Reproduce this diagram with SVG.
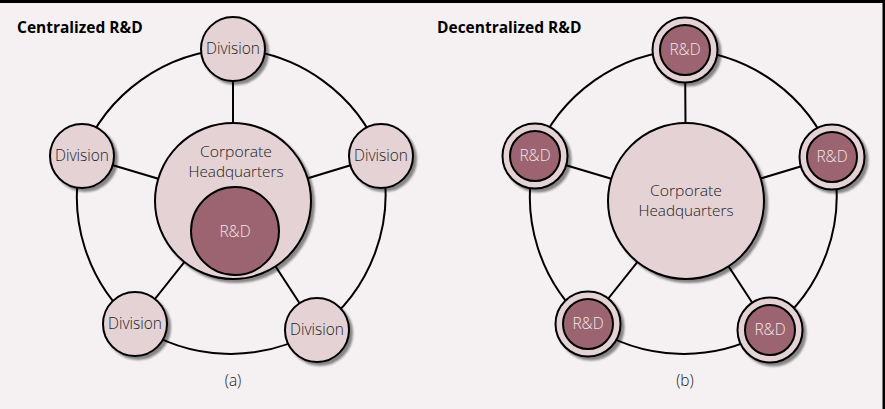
<svg xmlns="http://www.w3.org/2000/svg" width="885" height="409" viewBox="0 0 885 409">
<defs>
<filter id="sh" x="-30%" y="-30%" width="160%" height="160%">
<feGaussianBlur in="SourceAlpha" stdDeviation="1.2" result="b"/>
<feOffset in="b" dx="3" dy="3" result="o"/>
<feComponentTransfer in="o" result="s"><feFuncA type="linear" slope="0.45"/></feComponentTransfer>
<feMerge><feMergeNode in="s"/><feMergeNode in="SourceGraphic"/></feMerge>
</filter>
</defs>
<style>
.bg{fill:#f5f0f1}
.lt{fill:#e4d2d5;stroke:#000;stroke-width:2}
.dk{fill:#9b6470;stroke:#000;stroke-width:2}
.ln{fill:none;stroke:#000;stroke-width:2}
.t{font-family:"Open Sans","Noto Sans",sans-serif;font-size:15.5px;font-weight:300;fill:#222;text-anchor:middle}
.q{font-family:"Open Sans","Noto Sans",sans-serif;font-size:14.5px;font-weight:300;fill:#222;text-anchor:middle}
.tw{font-family:"Open Sans","Noto Sans",sans-serif;font-size:15.5px;font-weight:300;fill:#f3e6e8;text-anchor:middle}
.h{font-family:"Open Sans","Noto Sans",sans-serif;font-size:15.5px;font-weight:bold;fill:#000}
</style>
<rect class="bg" x="0" y="0" width="885" height="409"/>
<rect x="0" y="0" width="885" height="3" fill="#000"/>
<rect x="882.5" y="0" width="2.5" height="409" fill="#000"/>
<text class="h" x="17" y="33">Centralized R&amp;D</text>
<text class="h" x="437" y="33">Decentralized R&amp;D</text>

<g id="connectors">
<path class="ln" d="M233,201 L233,49 M233,201 L82,156 M233,201 L381,156 M233,201 L135,324 M233,201 L317,330"/>
<path class="ln" d="M233,49 A168,168 0 0 1 381,156 A168,168 0 0 1 317,330 A168,168 0 0 1 135,324 A168,168 0 0 1 82,156 A168,168 0 0 1 233,49"/>
<path class="ln" d="M686,201 L685,50 M686,201 L535,156 M686,201 L832,157 M686,201 L588,324 M686,201 L770,330"/>
<path class="ln" d="M685,50 A168,168 0 0 1 832,157 A168,168 0 0 1 770,330 A168,168 0 0 1 588,324 A168,168 0 0 1 535,156 A168,168 0 0 1 685,50"/>
</g>

<g id="hq-a">
<circle class="lt" cx="233" cy="201" r="78" filter="url(#sh)"/>
<text class="q" x="236" y="157" textLength="72" lengthAdjust="spacingAndGlyphs">Corporate</text>
<text class="q" x="236" y="177" textLength="95" lengthAdjust="spacingAndGlyphs">Headquarters</text>
</g>
<g id="rd-a">
<circle class="dk" cx="235" cy="231" r="44"/>
<text class="tw" x="235" y="237">R&amp;D</text>
</g>
<g id="div-top"><circle class="lt" cx="233" cy="49" r="32" filter="url(#sh)"/><text class="t" x="233" y="54">Division</text></g>
<g id="div-left"><circle class="lt" cx="82" cy="156" r="32" filter="url(#sh)"/><text class="t" x="82" y="161">Division</text></g>
<g id="div-right"><circle class="lt" cx="381" cy="156" r="32" filter="url(#sh)"/><text class="t" x="381" y="161">Division</text></g>
<g id="div-bl"><circle class="lt" cx="135" cy="324" r="32" filter="url(#sh)"/><text class="t" x="135" y="329">Division</text></g>
<g id="div-br"><circle class="lt" cx="317" cy="330" r="32" filter="url(#sh)"/><text class="t" x="317" y="335">Division</text></g>

<g id="hq-b">
<circle class="lt" cx="686" cy="201" r="78" filter="url(#sh)"/>
<text class="q" x="686" y="196" textLength="72" lengthAdjust="spacingAndGlyphs">Corporate</text>
<text class="q" x="686" y="216" textLength="95" lengthAdjust="spacingAndGlyphs">Headquarters</text>
</g>
<g id="rd-top"><circle class="lt" cx="685" cy="50" r="32.5" filter="url(#sh)"/><circle class="dk" cx="685" cy="50" r="25"/><text class="tw" x="685" y="55">R&amp;D</text></g>
<g id="rd-left"><circle class="lt" cx="535" cy="156" r="32.5" filter="url(#sh)"/><circle class="dk" cx="535" cy="156" r="25"/><text class="tw" x="535" y="161">R&amp;D</text></g>
<g id="rd-right"><circle class="lt" cx="832" cy="157" r="32.5" filter="url(#sh)"/><circle class="dk" cx="832" cy="157" r="25"/><text class="tw" x="832" y="162">R&amp;D</text></g>
<g id="rd-bl"><circle class="lt" cx="588" cy="324" r="32.5" filter="url(#sh)"/><circle class="dk" cx="588" cy="324" r="25"/><text class="tw" x="588" y="329">R&amp;D</text></g>
<g id="rd-br"><circle class="lt" cx="770" cy="330" r="32.5" filter="url(#sh)"/><circle class="dk" cx="770" cy="330" r="25"/><text class="tw" x="770" y="335">R&amp;D</text></g>

<text class="t" x="233" y="386">(a)</text>
<text class="t" x="685" y="386">(b)</text>
</svg>
